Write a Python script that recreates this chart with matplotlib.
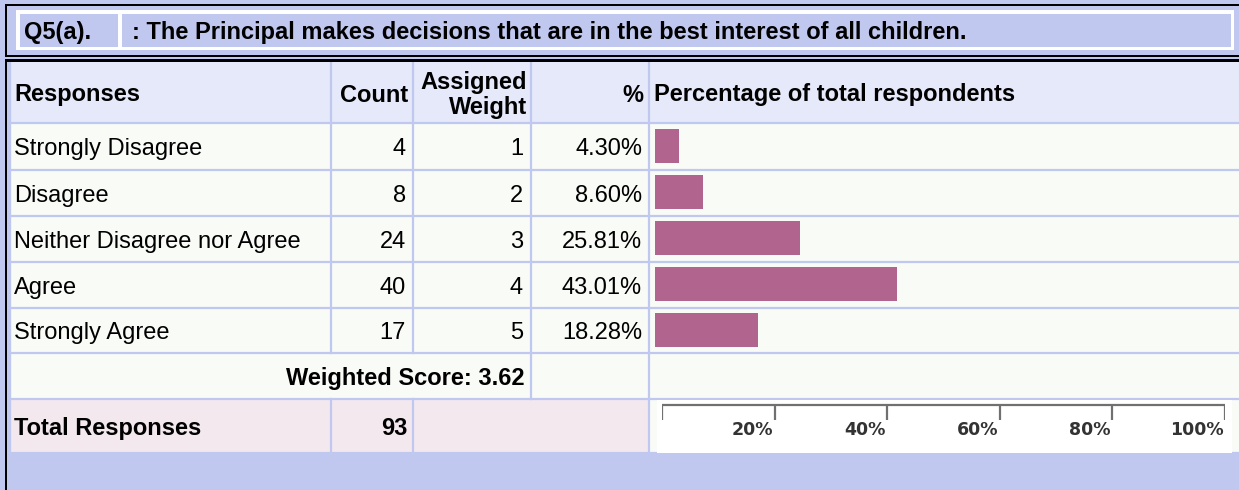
import matplotlib.pyplot as plt
from matplotlib.patches import Rectangle

# Survey data
question_id = "Q5(a)."
question = ": The Principal makes decisions that are in the best interest of all children."
responses = ["Strongly Disagree", "Disagree", "Neither Disagree nor Agree", "Agree", "Strongly Agree"]
counts = [4, 8, 24, 40, 17]
weights = [1, 2, 3, 4, 5]
percents = [4.30, 8.60, 25.81, 43.01, 18.28]
weighted_score = 3.62
total_responses = 93
scale_ticks = [0, 20, 40, 60, 80, 100]
scale_labels = ["", "20%", "40%", "60%", "80%", "100%"]

W, H = 1239, 490
BLUE = "#c0c8f0"
HEAD = "#e6e9fa"
ROW = "#f9fbf6"
PINK = "#f4e8ef"
BAR = "#b0648e"

plt.rcParams['font.family'] = ['Liberation Sans', 'DejaVu Sans']
fig = plt.figure(figsize=(W / 100, H / 100), dpi=100, facecolor=BLUE)
ax = fig.add_axes([0, 0, 1, 1])
ax.set_xlim(0, W)
ax.set_ylim(H, 0)
ax.axis('off')


def box(x0, y0, x1, y1, color, z=1):
    ax.add_patch(Rectangle((x0, y0), x1 - x0, y1 - y0, facecolor=color, edgecolor='none', zorder=z))


# title band
box(5, 4, W, 6, 'black', 3)
box(5, 4, 7, 57, 'black', 3)
box(16, 10, 1234, 50, 'white')
box(20, 14, 118, 47, BLUE, 2)
box(122, 14, 1231, 47, BLUE, 2)
box(5, 55, W, 57, 'black', 3)
box(5, 59, W, 62, 'black', 3)
box(5, 59, 7, H, 'black', 3)
ax.text(24, 32, question_id, fontsize=17, fontweight='bold', va='center', ha='left', zorder=4)
ax.text(132, 32, question, fontsize=17, fontweight='bold', va='center', ha='left', zorder=4)

# table geometry
cols = [9, 331, 413, 531, 649, W]
rows = [62, 123, 170, 216, 262, 308, 353, 399, 453]

box(9, rows[0], W, rows[1], HEAD)
box(9, rows[1], W, rows[7], ROW)
box(9, rows[7], 649, rows[8], PINK)
box(649, rows[7], W, rows[8], ROW)

lw = 1.6
for y in rows[1:]:
    ax.plot([9, W], [y, y], color=BLUE, lw=lw, zorder=2)
ax.plot([8.5, 8.5], [rows[0], rows[8]], color=BLUE, lw=lw * 1.5, zorder=2)
for x in cols[1:5]:
    ax.plot([x, x], [rows[0], rows[6]], color=BLUE, lw=lw, zorder=2)
ax.plot([531, 531], [rows[6], rows[7]], color=BLUE, lw=lw, zorder=2)
ax.plot([649, 649], [rows[6], rows[8]], color=BLUE, lw=lw, zorder=2)
ax.plot([331, 331], [rows[7], rows[8]], color=BLUE, lw=lw, zorder=2)
ax.plot([413, 413], [rows[7], rows[8]], color=BLUE, lw=lw, zorder=2)

fs = 17
dy = 2.5
hy = (rows[0] + rows[1]) / 2 + dy
ax.text(14, hy, "Responses", fontsize=fs, fontweight='bold', va='center', zorder=4)
ax.text(408, hy, "Count", fontsize=fs, fontweight='bold', va='center', ha='right', zorder=4)
ax.text(527, hy - 13, "Assigned", fontsize=fs, fontweight='bold', va='center', ha='right', zorder=4)
ax.text(527, hy + 12, "Weight", fontsize=fs, fontweight='bold', va='center', ha='right', zorder=4)
ax.text(643, hy, "%", fontsize=fs, fontweight='bold', va='center', ha='right', zorder=4)
ax.text(654, hy, "Percentage of total respondents", fontsize=fs, fontweight='bold', va='center', zorder=4)

for i, r in enumerate(responses):
    cy = (rows[i + 1] + rows[i + 2]) / 2 + dy
    ax.text(14, cy, r, fontsize=fs, va='center', zorder=4)
    ax.text(406, cy, str(counts[i]), fontsize=fs, va='center', ha='right', zorder=4)
    ax.text(523, cy, str(weights[i]), fontsize=fs, va='center', ha='right', zorder=4)
    ax.text(642, cy, f"{percents[i]:.2f}%", fontsize=fs, va='center', ha='right', zorder=4)

wy = (rows[6] + rows[7]) / 2 + dy
ax.text(525, wy, f"Weighted Score: {weighted_score:.2f}", fontsize=fs, fontweight='bold',
        va='center', ha='right', zorder=4)
ty = (rows[7] + rows[8]) / 2 + dy
ax.text(14, ty, "Total Responses", fontsize=fs, fontweight='bold', va='center', zorder=4)
ax.text(407, ty, str(total_responses), fontsize=fs, fontweight='bold', va='center', ha='right', zorder=4)

# white background of the scale image
box(657, 400, 1232, 453, 'white', 2)

# bars
bx = fig.add_axes([655 / W, 1 - rows[6] / H, 563 / W, (rows[6] - rows[1]) / H])
bx.set_xlim(0, 100)
bx.set_ylim(len(responses) - 0.5, -0.5)
bx.barh(range(len(percents)), percents, height=0.74, color=BAR)
bx.axis('off')
bx.patch.set_alpha(0)

# percentage scale
sx = fig.add_axes([662 / W, 1 - 453 / H, 563 / W, 53 / H])
sx.set_xlim(0, 100)
sx.set_ylim(53, 0)
sx.axis('off')
sx.patch.set_alpha(0)
sx.plot([scale_ticks[0], scale_ticks[-1]], [5, 5], color='#707070', lw=1.6, solid_capstyle='butt')
sx.vlines(scale_ticks, 5, 20, color='#707070', lw=1.6)
for t, lab in zip(scale_ticks, scale_labels):
    sx.text(t - 0.3, 30, lab, fontsize=12.5, fontweight='heavy', family='DejaVu Sans',
            color='#333333', ha='right', va='center')

fig.savefig("out.png", dpi=100, facecolor=BLUE)
